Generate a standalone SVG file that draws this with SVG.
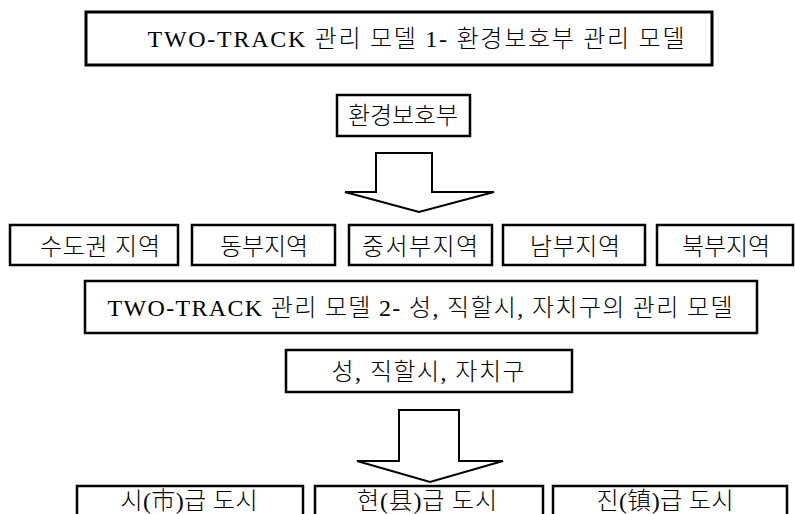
<svg xmlns="http://www.w3.org/2000/svg" width="795" height="514" viewBox="0 0 795 514">
<style>
.box{fill:#fff;stroke:#000;stroke-width:2.5}
.tbox{fill:#fff;stroke:#000;stroke-width:3}
.t{font-family:"Liberation Serif","Noto Sans CJK KR",serif;fill:#000;text-anchor:middle;font-weight:300}
.big{font-size:24px}
.mid{font-size:24px}
.arr{fill:#fff;stroke:#000;stroke-width:2;stroke-linejoin:miter}
</style>
<rect width="795" height="514" fill="#fff"/>
<g id="title1">
<rect class="tbox" x="86" y="12" width="626" height="53"/>
<text class="t big" x="416" y="47" textLength="537">TWO-TRACK 관리 모델 1- 환경보호부 관리 모델</text>
</g>
<g id="mep">
<rect class="box" x="337" y="95" width="133" height="41"/>
<text class="t mid" x="403" y="124" textLength="110">환경보호부</text>
</g>
<g id="connectors">
<polygon class="arr" points="376,153 432,153 432,192 494,192 419,212 345,192 376,192"/>
<polygon class="arr" points="399,410 459,410 459,461 503,461 430,482 357,461 399,461"/>
</g>
<g id="r1">
<rect class="box" x="10" y="225" width="168" height="40"/>
<text class="t mid" x="100" y="255" textLength="120">수도권 지역</text>
</g>
<g id="r2">
<rect class="box" x="192" y="225" width="143" height="40"/>
<text class="t mid" x="264" y="255" textLength="88">동부지역</text>
</g>
<g id="r3">
<rect class="box" x="349" y="225" width="143" height="40"/>
<text class="t mid" x="420" y="255" textLength="116">중서부지역</text>
</g>
<g id="r4">
<rect class="box" x="503" y="225" width="142" height="40"/>
<text class="t mid" x="575" y="255" textLength="90">남부지역</text>
</g>
<g id="r5">
<rect class="box" x="657" y="225" width="136" height="40"/>
<text class="t mid" x="726" y="255" textLength="88">북부지역</text>
</g>
<g id="title2">
<rect class="box" x="85" y="281" width="672" height="52"/>
<text class="t big" x="420" y="316" textLength="625">TWO-TRACK 관리 모델 2- 성, 직할시, 자치구의 관리 모델</text>
</g>
<g id="prov">
<rect class="box" x="286" y="350" width="286" height="42"/>
<text class="t mid" x="428" y="380" textLength="193">성, 직할시, 자치구</text>
</g>
<g id="c1">
<rect class="box" x="77" y="486" width="226" height="50"/>
<text class="t mid" x="189" y="509" textLength="137">시(市)급 도시</text>
</g>
<g id="c2">
<rect class="box" x="315" y="486" width="228" height="50"/>
<text class="t mid" x="427" y="509" textLength="140">현(县)급 도시</text>
</g>
<g id="c3">
<rect class="box" x="553" y="486" width="234" height="50"/>
<text class="t mid" x="665" y="509" textLength="137">진(镇)급 도시</text>
</g>
</svg>
